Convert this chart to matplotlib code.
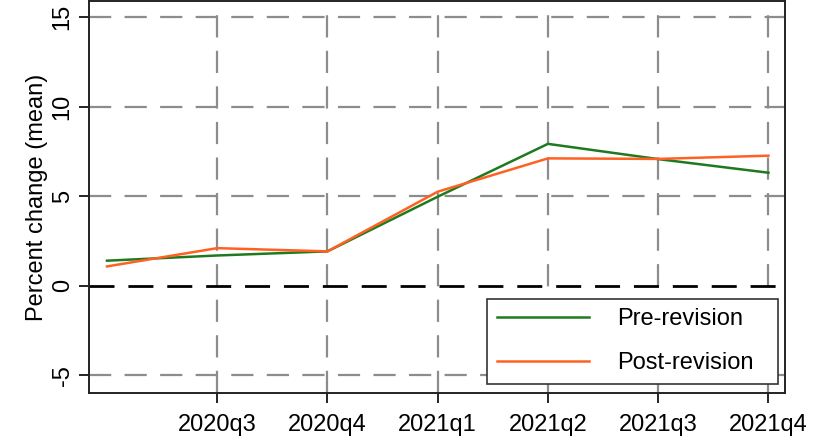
import matplotlib
matplotlib.use("Agg")
import matplotlib.pyplot as plt

# quarters (first one has no tick label in the original)
quarters = ["2020q2", "2020q3", "2020q4", "2021q1", "2021q2", "2021q3", "2021q4"]
tick_labels = ["2020q3", "2020q4", "2021q1", "2021q2", "2021q3", "2021q4"]
pre_revision = [1.40, 1.69, 1.92, 4.97, 7.92, 7.07, 6.31]
post_revision = [1.08, 2.10, 1.92, 5.25, 7.11, 7.08, 7.26]
y_ticks = [-5, 0, 5, 10, 15]

plt.rcParams["font.family"] = ["Liberation Sans", "DejaVu Sans"]
fs = 17

fig = plt.figure(figsize=(8.28, 4.4), dpi=100)
ax = fig.add_axes([0.1075, 0.107, 0.8405, 0.891])

x = list(range(len(quarters)))

# grid lines, dashed grey like Stata
for xi in x[1:]:
    ax.axvline(xi, color="#8c8c8c", lw=1.6, dashes=(10, 6), zorder=1)
for yt in y_ticks:
    if yt == 0:
        ax.axhline(0, color="black", lw=2.0, dashes=(9, 5), zorder=1)
    else:
        ax.axhline(yt, color="#8c8c8c", lw=1.6, dashes=(10, 6), zorder=1)

ax.plot(x, pre_revision, color="#1f7a1f", lw=1.8, label="Pre-revision", zorder=3)
ax.plot(x, post_revision, color="#ff6122", lw=1.8, label="Post-revision", zorder=3)

ax.set_xlim(-0.163, 6.15)
ax.set_ylim(-5.98, 15.9)
ax.set_xticks(x[1:])
ax.set_xticklabels(tick_labels, fontsize=fs)
ax.set_yticks(y_ticks)
ax.set_yticklabels([str(t) for t in y_ticks], fontsize=fs, rotation=90, va="center")
ax.tick_params(axis="both", direction="out", length=7, width=1.2, color="black")
ax.tick_params(axis="x", pad=8)
ax.tick_params(axis="y", pad=4)
ax.set_ylabel("Percent change (mean)", fontsize=fs, labelpad=3)

for side in ["left", "bottom", "top", "right"]:
    ax.spines[side].set_linewidth(1.4)
    ax.spines[side].set_color("#222222")

leg = ax.legend(loc="lower left", bbox_to_anchor=(0.572, 0.023, 0.418, 0.224),
                mode="expand", borderaxespad=0, fontsize=fs, handlelength=3.9,
                handletextpad=1.2, labelspacing=0.95, borderpad=0.4,
                fancybox=False, framealpha=1)
leg.get_frame().set_edgecolor("#333333")
leg.get_frame().set_linewidth(1.2)

fig.savefig("out.png", dpi=100)
